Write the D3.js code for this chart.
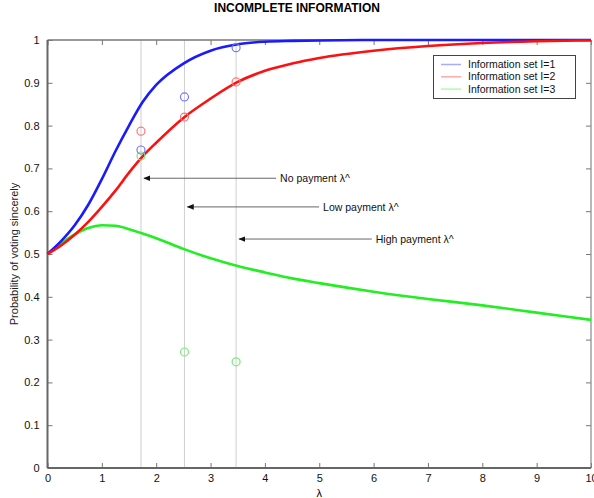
<!DOCTYPE html>
<html><head><meta charset="utf-8">
<script src="https://cdn.jsdelivr.net/npm/d3@7"></script>
<style>body{margin:0;background:#fff}svg{display:block;font-family:"Liberation Sans",Arial,sans-serif}</style>
</head><body><svg id="c" width="594" height="498"></svg>
<script>
const lambdaGrid = [0,0.25,0.5,0.75,1,1.25,1.5,1.75,2,2.5,3,3.5,4,4.5,5,6,7,8,9,10];
const set1 = [0.5,0.53,0.567,0.615,0.675,0.74,0.80,0.855,0.895,0.945,0.975,0.99,0.996,0.998,0.999,1,1,1,1,1];
const set2 = [0.5,0.52,0.545,0.575,0.61,0.648,0.69,0.728,0.76,0.818,0.863,0.902,0.928,0.945,0.958,0.975,0.986,0.993,0.997,0.999];
const set3 = [0.5,0.525,0.546,0.561,0.567,0.566,0.558,0.548,0.537,0.512,0.49,0.472,0.457,0.443,0.432,0.412,0.395,0.38,0.363,0.346];
const markerX = [1.72,2.52,3.47];
const obs1 = [0.743,0.867,0.982];
const obs2 = [0.787,0.82,0.902];
const obs3 = [0.729,0.271,0.248];
const annLabels = ["No payment λ^","Low payment λ^","High payment λ^"];
const annY = [0.677,0.61,0.535];
const annTextX = [4.28,5.07,6.04];
const seriesNames = ["Information set I=1","Information set I=2","Information set I=3"];
const xTicks = [0,1,2,3,4,5,6,7,8,9,10];
const yTicks = [0,0.1,0.2,0.3,0.4,0.5,0.6,0.7,0.8,0.9,1];

const svg = d3.select("#c");
const L=47.5,R=591,T=40,B=468;
const x = d3.scaleLinear().domain([0,10]).range([L,R]);
const y = d3.scaleLinear().domain([0,1]).range([B,T]);

svg.append("text").attr("x",297).attr("y",12).attr("text-anchor","middle")
  .attr("font-size",12).attr("font-weight","bold").text("INCOMPLETE INFORMATION");

// vertical reference lines
svg.selectAll(".vl").data(markerX).enter().append("line")
  .attr("x1",d=>x(d)).attr("x2",d=>x(d)).attr("y1",T).attr("y2",B)
  .attr("stroke","#cfcfcf").attr("stroke-width",1);

// axes with inward ticks (MATLAB style)
const fmt = d=> d===0||d===1 ? String(d) : d3.format(".1f")(d);
const gb = svg.append("g").attr("transform",`translate(0,${B})`)
  .call(d3.axisBottom(x).tickValues(xTicks).tickSizeInner(-5).tickSizeOuter(0).tickPadding(6).tickFormat(d3.format("d")));
const gt = svg.append("g").attr("transform",`translate(0,${T})`)
  .call(d3.axisTop(x).tickValues(xTicks).tickSizeInner(-5).tickSizeOuter(0).tickFormat(""));
const gl = svg.append("g").attr("transform",`translate(${L},0)`)
  .call(d3.axisLeft(y).tickValues(yTicks).tickSizeInner(-5).tickSizeOuter(0).tickPadding(8).tickFormat(fmt));
const gr = svg.append("g").attr("transform",`translate(${R},0)`)
  .call(d3.axisRight(y).tickValues(yTicks).tickSizeInner(-5).tickSizeOuter(0).tickFormat(""));
[gb,gt,gl,gr].forEach(g=>{
  g.selectAll(".domain").remove();
  g.selectAll(".tick line").attr("stroke","#777");
  g.selectAll("text").attr("font-size",11).attr("fill","#111").attr("font-family","Liberation Sans, Arial, sans-serif");
});
gb.selectAll("text").attr("dy","0.75em");
// frame
svg.append("line").attr("x1",L).attr("x2",R).attr("y1",T).attr("y2",T).attr("stroke","#777").attr("stroke-width",1.5);
svg.append("line").attr("x1",R).attr("x2",R).attr("y1",T).attr("y2",B).attr("stroke","#888").attr("stroke-width",1.2);
svg.append("line").attr("x1",L).attr("x2",R).attr("y1",B).attr("y2",B).attr("stroke","#666").attr("stroke-width",2);
svg.append("line").attr("x1",L).attr("x2",L).attr("y1",T).attr("y2",B).attr("stroke","#666").attr("stroke-width",2);

svg.append("text").attr("x",x(5)).attr("y",497).attr("text-anchor","middle").attr("font-size",11).text("λ");
svg.append("text").attr("transform",`translate(18,${y(0.5)}) rotate(-90)`).attr("text-anchor","middle")
  .attr("font-size",11).attr("fill","#222").text("Probability of voting sincerely");

// curves
const line = d3.line().x((d,i)=>x(lambdaGrid[i])).y(d=>y(d)).curve(d3.curveMonotoneX);
const series = [
  {vals:set3,color:"#22ee22",obs:obs3,oc:"#77ee77"},
  {vals:set1,color:"#1a1aff",obs:obs1,oc:"#7777ff"},
  {vals:set2,color:"#ff1010",obs:obs2,oc:"#ff7777"}
];
series.forEach(s=>{
  svg.append("path").attr("d",line(s.vals)).attr("fill","none").attr("stroke",s.color).attr("stroke-width",2.6);
});
series.forEach(s=>{
  svg.selectAll(null).data(s.obs).enter().append("circle")
    .attr("cx",(d,i)=>x(markerX[i])).attr("cy",d=>y(d)).attr("r",4)
    .attr("fill","none").attr("stroke",s.oc).attr("stroke-width",1.2);
});

// annotations
const defs = svg.append("defs");
defs.append("marker").attr("id","ah").attr("viewBox","0 0 10 10").attr("refX",9).attr("refY",5)
  .attr("markerWidth",7).attr("markerHeight",7).attr("orient","auto")
  .append("path").attr("d","M0,1 L10,5 L0,9 z").attr("fill","#111");
annLabels.forEach((t,i)=>{
  const tx = x(annTextX[i]);
  svg.append("text").attr("x",tx).attr("y",y(annY[i])).attr("dy","0.35em").attr("font-size",10.5).attr("fill","#111").text(t);
  svg.append("line").attr("x1",tx-4).attr("x2",x(markerX[i])+3).attr("y1",y(annY[i])).attr("y2",y(annY[i]))
    .attr("stroke","#666").attr("stroke-width",1).attr("marker-end","url(#ah)");
});

// legend
const lg = svg.append("g");
lg.append("rect").attr("x",433.5).attr("y",55.5).attr("width",142).attr("height",43)
  .attr("fill","#fff").attr("stroke","#444").attr("stroke-width",1);
const legColors = ["#aaaaff","#ffaaaa","#aaffaa"];
seriesNames.forEach((n,i)=>{
  const yy = 64.5+i*12.3;
  lg.append("line").attr("x1",441).attr("x2",461).attr("y1",yy).attr("y2",yy).attr("stroke",legColors[i]).attr("stroke-width",1.5);
  lg.append("text").attr("x",468).attr("y",yy).attr("dy","0.35em").attr("font-size",10.5).attr("fill","#111").text(n);
});
</script></body></html>
